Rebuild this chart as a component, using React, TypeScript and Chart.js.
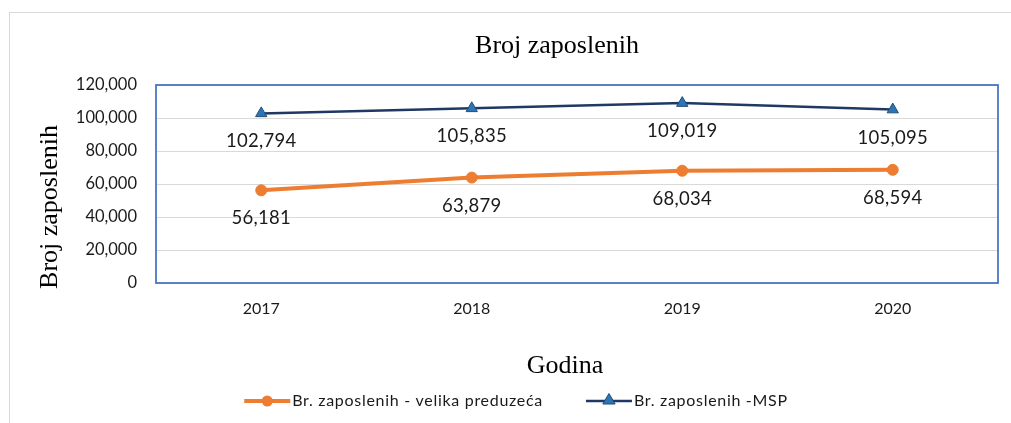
import { useEffect, useRef } from "react";
import { Chart, registerables } from "chart.js";

Chart.register(...registerables);

const categories = ["2017", "2018", "2019", "2020"];
const largeCompanies = [56181, 63879, 68034, 68594];
const smeCompanies = [102794, 105835, 109019, 105095];
const seriesNames = ["Br. zaposlenih - velika preduzeća", "Br. zaposlenih -MSP"];
const chartTitle = "Broj zaposlenih";
const xAxisTitle = "Godina";
const yAxisTitle = "Broj zaposlenih";
const yMin = 0;
const yMax = 120000;
const yStep = 20000;

const ORANGE = "#ED7D31";
const NAVY = "#1F3864";
const TRI_FILL = "#2E75B6";
const TRI_BORDER = "#1F4E79";
const SANS = "Lato, 'Open Sans', sans-serif";
const SERIF = "'Liberation Serif', 'DejaVu Serif', serif";
const TEXT = "#1a1a1a";

const fmt = (v: number) => v.toLocaleString("en-US");

function drawTriangle(ctx: CanvasRenderingContext2D, x: number, y: number, r: number) {
  ctx.beginPath();
  ctx.moveTo(x, y - r);
  ctx.lineTo(x + r * 0.95, y + r * 0.62);
  ctx.lineTo(x - r * 0.95, y + r * 0.62);
  ctx.closePath();
  ctx.fillStyle = TRI_FILL;
  ctx.fill();
  ctx.strokeStyle = TRI_BORDER;
  ctx.lineWidth = 1;
  ctx.stroke();
}

const decorPlugin = {
  id: "decor",
  beforeDraw(chart: any) {
    const ctx = chart.ctx as CanvasRenderingContext2D;
    ctx.save();
    ctx.fillStyle = "#ffffff";
    ctx.fillRect(0, 0, chart.width, chart.height);
    ctx.strokeStyle = "#d9d9d9";
    ctx.lineWidth = 1;
    ctx.strokeRect(9.5, 12.5, chart.width + 20, chart.height + 20);
    ctx.restore();
  },
  beforeDatasetsDraw(chart: any) {
    const ctx = chart.ctx as CanvasRenderingContext2D;
    const a = chart.chartArea;
    ctx.save();
    ctx.strokeStyle = "#4472C4";
    ctx.lineWidth = 1.75;
    ctx.strokeRect(a.left, a.top, a.right - a.left, a.bottom - a.top);
    ctx.restore();
  },
  afterDraw(chart: any) {
    const ctx = chart.ctx as CanvasRenderingContext2D;
    ctx.save();

    // Title
    ctx.fillStyle = "#000";
    ctx.font = `26px ${SERIF}`;
    ctx.textAlign = "center";
    ctx.textBaseline = "alphabetic";
    ctx.fillText(chartTitle, 557, 53);

    // X axis title
    ctx.fillText(xAxisTitle, 565, 373);

    // Y axis title
    ctx.save();
    ctx.translate(57, 207);
    ctx.rotate(-Math.PI / 2);
    ctx.fillText(yAxisTitle, 0, 0);
    ctx.restore();

    // Data labels
    ctx.font = `18.5px ${SANS}`;
    ctx.fillStyle = TEXT;
    ctx.textBaseline = "middle";
    (ctx as any).letterSpacing = "0.3px";
    chart.data.datasets.forEach((ds: any, i: number) => {
      const meta = chart.getDatasetMeta(i);
      meta.data.forEach((pt: any, j: number) => {
        ctx.fillText(fmt(ds.data[j]), pt.x, pt.y + 28);
      });
    });

    // Legend
    ctx.font = `16px ${SANS}`;
    (ctx as any).letterSpacing = "0.7px";
    ctx.textAlign = "left";
    const lineLen = 46;
    const gap = 2;
    const itemGap = 43;
    const w0 = ctx.measureText(seriesNames[0]).width;
    const w1 = ctx.measureText(seriesNames[1]).width;
    const total = lineLen + gap + w0 + itemGap + lineLen + gap + w1;
    let x = 516 - total / 2;
    const ly = 401;
    // item 1
    ctx.strokeStyle = ORANGE;
    ctx.lineWidth = 4;
    ctx.beginPath();
    ctx.moveTo(x, ly);
    ctx.lineTo(x + lineLen, ly);
    ctx.stroke();
    ctx.fillStyle = ORANGE;
    ctx.beginPath();
    ctx.arc(x + lineLen / 2, ly, 5.5, 0, Math.PI * 2);
    ctx.fill();
    ctx.fillStyle = TEXT;
    ctx.fillText(seriesNames[0], x + lineLen + gap, ly);
    x += lineLen + gap + w0 + itemGap;
    // item 2
    ctx.strokeStyle = NAVY;
    ctx.lineWidth = 2.5;
    ctx.beginPath();
    ctx.moveTo(x, ly);
    ctx.lineTo(x + lineLen, ly);
    ctx.stroke();
    drawTriangle(ctx, x + lineLen / 2, ly - 1, 6.5);
    ctx.fillStyle = TEXT;
    ctx.fillText(seriesNames[1], x + lineLen + gap, ly);

    ctx.restore();
  },
};

export default function App() {
  const ref = useRef<HTMLCanvasElement | null>(null);

  useEffect(() => {
    if (!ref.current) return;
    const chart = new Chart(ref.current, {
      type: "line",
      data: {
        labels: categories,
        datasets: [
          {
            label: seriesNames[0],
            data: largeCompanies,
            borderColor: ORANGE,
            backgroundColor: ORANGE,
            borderWidth: 4,
            pointStyle: "circle",
            pointRadius: 5.5,
            pointBackgroundColor: ORANGE,
            pointBorderColor: ORANGE,
            pointBorderWidth: 1,
            tension: 0,
          },
          {
            label: seriesNames[1],
            data: smeCompanies,
            borderColor: NAVY,
            backgroundColor: TRI_FILL,
            borderWidth: 2.5,
            pointStyle: "triangle",
            pointRadius: 6.5,
            pointBackgroundColor: TRI_FILL,
            pointBorderColor: TRI_BORDER,
            pointBorderWidth: 1,
            tension: 0,
          },
        ],
      },
      options: {
        responsive: false,
        animation: false,
        devicePixelRatio: 1,
        layout: { padding: { top: 85, right: 13, bottom: 0, left: 0 } },
        plugins: {
          legend: { display: false },
          title: { display: false },
          tooltip: { enabled: false },
        },
        scales: {
          x: {
            offset: true,
            grid: { display: false, drawTicks: false },
            border: { display: false },
            ticks: {
              padding: 16,
              color: TEXT,
              font: { family: SANS, size: 16 },
            },
            afterFit: (scale: any) => {
              scale.height = 140;
            },
          },
          y: {
            min: yMin,
            max: yMax,
            grid: { color: "#d9d9d9", lineWidth: 1, drawTicks: false },
            border: { display: false },
            ticks: {
              stepSize: yStep,
              padding: 19,
              color: TEXT,
              font: { family: SANS, size: 16.5 },
              callback: (v: any) => fmt(Number(v)),
            },
            afterFit: (scale: any) => {
              scale.width = 156;
            },
          },
        },
      },
      plugins: [decorPlugin],
    });
    return () => chart.destroy();
  }, []);

  return (
    <div
      style={{
        position: "fixed",
        left: 0,
        top: 0,
        width: 1011,
        height: 423,
        background: "#fff",
        overflow: "hidden",
      }}
    >
      <canvas ref={ref} width={1011} height={423} style={{ width: 1011, height: 423, display: "block" }} />
    </div>
  );
}
